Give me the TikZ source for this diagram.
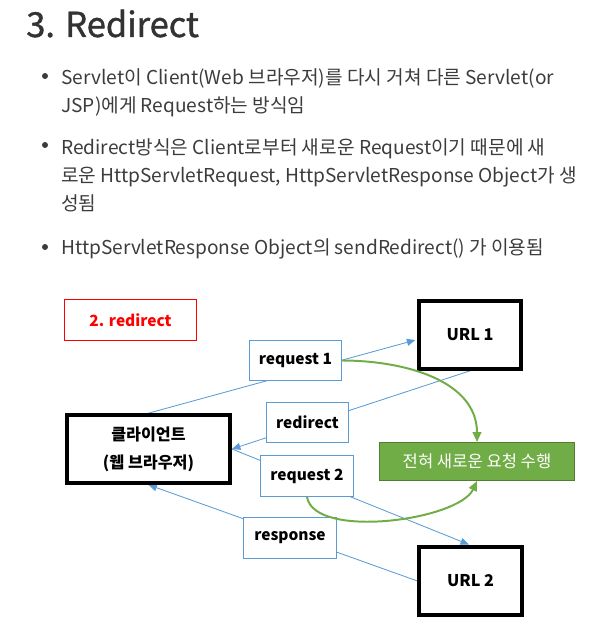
\documentclass[tikz,border=0pt]{standalone}
\usepackage{fontspec}
\setmainfont{Noto Sans CJK KR}
\newfontfamily\headfont[UprightFeatures={FakeBold=1.1}]{Noto Sans CJK KR}
\usetikzlibrary{arrows.meta,backgrounds}
\definecolor{msblue}{HTML}{5B9BD5}
\definecolor{msgreen}{HTML}{70AD47}
\definecolor{msgreenline}{HTML}{507E32}
\definecolor{txtgray}{HTML}{3C3C3C}
\definecolor{titlegray}{HTML}{333333}

\begin{document}
\begin{tikzpicture}[
  x=0.025cm,y=-0.025cm,
  txtline/.style={anchor=base west,inner sep=0pt,text=txtgray,
                  font=\fontsize{13.6}{17}\selectfont},
  dot/.style={circle,fill=txtgray,inner sep=0pt,minimum size=0.15cm},
  msg/.style={rectangle,draw=msblue,fill=white,line width=0.6pt,
              minimum width=2.33cm,minimum height=1.03cm,
              font=\fontsize{11}{13}\selectfont\bfseries},
  site/.style={rectangle,draw=black,fill=white,line width=2.6pt,
               minimum width=2.56cm,minimum height=1.7cm,align=center,
               font=\fontsize{11.5}{20}\selectfont\bfseries},
  flow/.style={-{Triangle[length=6pt,width=5pt]},msblue,line width=0.6pt},
  hop/.style={-{Triangle[length=7pt,width=6pt]},msgreen,line width=1.4pt}
]
  \useasboundingbox (0,0) rectangle (596,622);

  % heading and bullet text
  \node[anchor=base west,inner sep=0pt,text=titlegray,
        font=\fontsize{24.5}{28}\headfont] (title) at (26,37) {3. Redirect};
  \node[dot] (dot1) at (45,76) {};
  \node[txtline] (l1a) at (61,85)  {Servlet이 Client(Web 브라우저)를 다시 거쳐 다른 Servlet(or};
  \node[txtline] (l1b) at (61,113) {JSP)에게 Request하는 방식임};
  \node[dot] (dot2) at (45,145) {};
  \node[txtline] (l2a) at (61,155) {Redirect방식은 Client로부터 새로운 Request이기 때문에 새};
  \node[txtline] (l2b) at (61,183) {로운 HttpServletRequest, HttpServletResponse Object가 생};
  \node[txtline] (l2c) at (61,211) {성됨};
  \node[dot] (dot3) at (45,247) {};
  \node[txtline] (l3a) at (61,255) {HttpServletResponse Object의 sendRedirect() 가 이용됨};

  % diagram
  \node[msg,draw=red,text=red,minimum width=3.3cm] (tag) at (130.5,320) {2. redirect};
  \node[site] (url1)   at (470,335)   {URL 1};
  \node[site,minimum width=4.08cm] (client) at (148.5,449) {클라이언트\\(웹 브라우저)};
  \node[site] (url2)   at (470.5,581) {URL 2};
  \node[msg,minimum width=2.3cm,minimum height=1cm] (req1) at (295.5,360.5) {request 1};
  \node[msg,minimum width=2.05cm,minimum height=1cm] (redir) at (307.5,422.5) {redirect};
  \node[msg] (req2) at (307,476) {request 2};
  \node[msg] (resp) at (290,538) {response};
  \node[rectangle,draw=msgreenline,fill=msgreen,line width=0.6pt,text=white,
        minimum width=4.88cm,minimum height=0.95cm,
        font=\fontsize{11.8}{13}\selectfont] (fresh) at (477,461.5) {전혀 새로운 요청 수행};

  \begin{pgfonlayer}{background}
    \draw[flow,shorten >=1.2pt] (client.north) -- (url1.185);
    \draw[flow] (url1.south) -- (client.east);
    \draw[flow,shorten >=1.2pt] (client.east) -- (url2.north);
    \draw[flow] (url2.west) -- (client.south);
  \end{pgfonlayer}

  \draw[hop] (req1.east) to[out=0,in=90] (fresh.north);
  \draw[hop] (req2.south) to[out=-80,in=-115,looseness=0.65] (fresh.south);
\end{tikzpicture}
\end{document}
